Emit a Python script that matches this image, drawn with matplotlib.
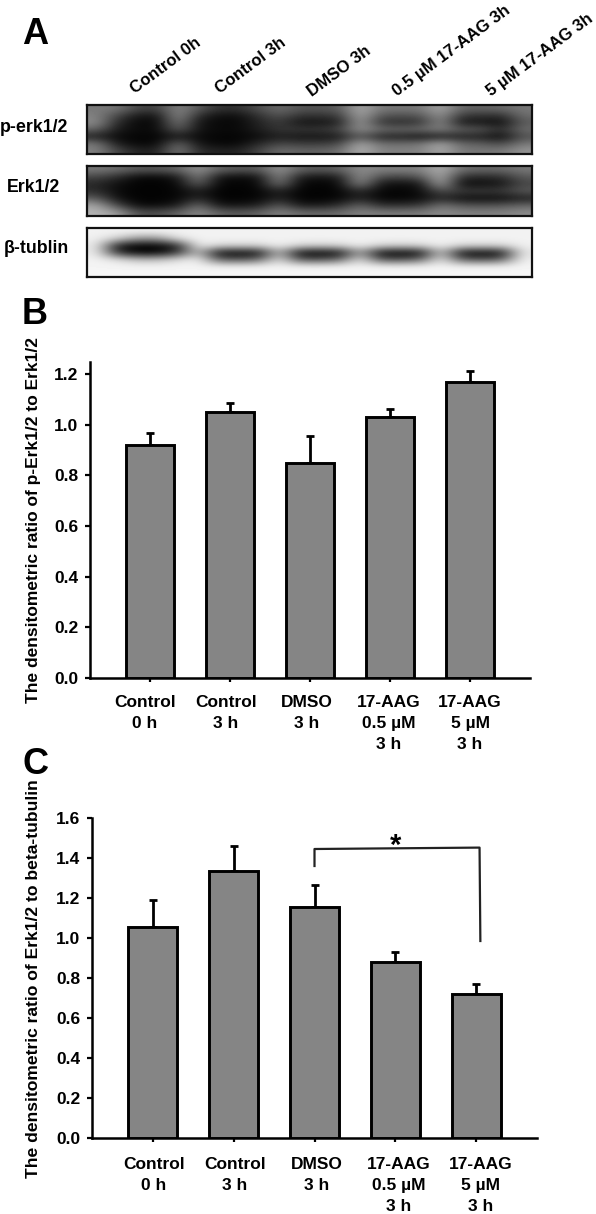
import numpy as np
import matplotlib
matplotlib.use("Agg")
import matplotlib.pyplot as plt

plt.rcParams['font.family'] = ['Liberation Sans', 'DejaVu Sans']
plt.rcParams['font.weight'] = 'bold'

W, H = 596, 1214

lane_labels = ["Control 0h", "Control 3h", "DMSO 3h", "0.5 µM 17-AAG 3h", "5 µM 17-AAG 3h"]
blot_names = ["p-erk1/2", "Erk1/2", "β-tublin"]

# Coarse grey levels (rows top to bottom)
perk_grey = [
    [120,120, 70, 65,135, 90, 50, 50, 80,110, 85, 85, 90,175,120,120,120,170,100,100,105,120],
    [130, 70, 25, 20,145, 45, 15, 15, 50, 85, 50, 50, 60,170, 85, 80, 85,150, 55, 50, 45,110],
    [140, 40,  8,  8,125, 20,  8,  8, 35, 60, 20, 20, 30,160, 50, 45, 50,140, 20, 25, 10, 90],
    [100, 25, 12, 10, 95, 20, 10, 10, 30, 55, 55, 55, 70,150,110,105,110,130, 95, 90, 45,110],
    [ 30, 10,  5,  5, 25, 10,  5,  5, 12, 30, 20, 20, 25, 90, 30, 30, 15, 30, 30, 30,  8, 80],
    [120, 25,  8,  8,105, 20,  8,  8, 40, 70, 60, 60, 70,170,110,110,115,170,100, 95, 70,120],
    [130, 70, 35, 35,125, 45, 35, 35, 70,110,100,100,110,180,130,130,130,170,120,120,120,150],
]
erk_grey = [
    [120,110, 90, 90,100,150,100, 90, 90,150,100, 90,100,140,130,130,130,180,110,105,105,120],
    [ 70, 45, 10,  8, 25,130, 20, 12, 18,140, 30, 20, 30,150, 75, 70, 85,175, 45, 40, 45, 90],
    [ 40, 15,  3,  3,  8,100,  6,  5,  8,120,  8,  5, 10,140, 20, 15, 20,170, 12, 15, 20, 70],
    [ 45, 10,  3,  3,  6, 30,  3,  3,  5, 35,  5,  3,  6, 45,  8,  5, 12, 80, 60, 60, 60, 90],
    [ 90, 15,  3,  3,  6, 40,  3,  3,  5, 35,  3,  3,  6, 35,  5,  5, 10, 40, 12, 10, 12, 30],
    [165, 70, 10, 10, 25,110, 20, 20, 30, 90, 25, 25, 45,100, 45, 45, 55,115, 85, 80, 85,100],
    [180,160, 80, 80,100,140,100, 90,100,130,110,105,110,130,125,125,125,140,130,130,130,140],
]
tub_grey = [
    [242,242,242,242,242,242,242,242,242,242,242,242,242,242,242,242,242,242,242,242,242,242],
    [240,210,150,150,225,242,242,242,242,242,242,242,242,242,242,242,242,242,242,242,242,242],
    [235, 25,  3,  3, 35,240,215,215,215,240,215,210,215,240,215,210,215,240,215,215,215,240],
    [235, 45,  5,  5, 55,195, 10,  8, 12,190,  8,  6, 12,170,  8,  6, 10,205, 12,  8, 12,230],
    [242,225,190,190,220,240, 95, 85,105,225, 85, 80,105,225, 85, 80,105,232, 95, 80, 95,240],
    [244,244,244,244,244,244,244,244,244,244,244,244,244,244,244,244,244,244,244,244,244,244],
    [246,246,246,246,246,246,246,246,246,246,246,246,246,246,246,246,246,246,246,246,246,246],
]

x_labels = ["Control\n0 h", "Control\n3 h", "DMSO\n3 h", "17-AAG\n0.5 µM\n3 h", "17-AAG\n5 µM\n3 h"]
ratio_b = [0.92, 1.05, 0.85, 1.03, 1.17]
err_b = [0.045, 0.035, 0.105, 0.03, 0.04]
ratio_c = [1.055, 1.335, 1.155, 0.88, 0.72]
err_c = [0.135, 0.125, 0.11, 0.05, 0.05]
ticks_b = [0.0, 0.2, 0.4, 0.6, 0.8, 1.0, 1.2]
ticks_c = [0.0, 0.2, 0.4, 0.6, 0.8, 1.0, 1.2, 1.4, 1.6]
ylabel_b = "The densitometric ratio of p-Erk1/2 to Erk1/2"
ylabel_c = "The densitometric ratio of Erk1/2 to beta-tubulin"

fig = plt.figure(figsize=(W / 100, H / 100), dpi=100, facecolor='white')


def px_axes(x0, y0, x1, y1):
    """Axes from pixel box measured from the top left of the figure."""
    return fig.add_axes([x0 / W, 1 - y1 / H, (x1 - x0) / W, (y1 - y0) / H])


def px_text(x, y, s, **kw):
    return fig.text(x / W, 1 - y / H, s, **kw)


# ---- Panel A: blots
blots = [perk_grey, erk_grey, tub_grey]
boxes = [(87, 105, 532, 154), (87, 166, 532, 216), (87, 228, 532, 277)]
name_pos = [(34, 127), (34, 187), (36, 248)]
for grey, box, name, np_ in zip(blots, boxes, blot_names, name_pos):
    ax = px_axes(*box)
    ax.imshow(np.array(grey, dtype=float), cmap='gray', vmin=0, vmax=255,
              aspect='auto', interpolation='bicubic')
    ax.set_xticks([])
    ax.set_yticks([])
    for s in ax.spines.values():
        s.set_linewidth(1.6)
        s.set_color('#111111')
    px_text(np_[0], np_[1], name, ha='center', va='center', fontsize=12.8, color='black')

lane_anchor = [(137, 96), (222, 96), (314, 99), (399, 99), (493, 99)]
for lab, (lx, ly) in zip(lane_labels, lane_anchor):
    px_text(lx, ly, lab, rotation=36.5, rotation_mode='anchor', ha='left', va='bottom',
            fontsize=12.1, color='black')


# ---- Panels B and C: bars
def bars(box, vals, errs, ticks, ymax, ylabel, yl_xy, yl_size, lab_dx, lab_dy):
    ax = px_axes(*box)
    pos = np.arange(len(vals))
    ax.bar(pos, vals, width=0.6, color='#858585', edgecolor='black', linewidth=2.1, zorder=3)
    ax.errorbar(pos, vals, yerr=[np.zeros(len(errs)), errs], fmt='none', ecolor='black',
                elinewidth=2.0, capsize=3.2, capthick=2.0, zorder=2)
    ax.set_xlim(-0.75, 4.75)
    ax.set_ylim(0, ymax)
    ax.set_yticks(ticks)
    ax.set_yticklabels([f"{t:.1f}" for t in ticks], fontsize=12.5, fontweight='bold')
    ax.set_xticks(pos)
    ax.set_xticklabels([])
    ax.tick_params(axis='y', length=3.5, width=1.6, pad=5)
    ax.tick_params(axis='x', length=3, width=1.6)
    for side in ('top', 'right'):
        ax.spines[side].set_visible(False)
    for side in ('left', 'bottom'):
        ax.spines[side].set_linewidth(1.8)
    for p, lab, dx in zip(pos, x_labels, lab_dx):
        ax.annotate(lab, xy=(p, 0), xycoords=('data', 'axes fraction'),
                    xytext=(dx * 0.72, lab_dy), textcoords='offset points',
                    ha='center', va='top', fontsize=12.5, fontweight='bold',
                    linespacing=1.5, annotation_clip=False)
    px_text(yl_xy[0], yl_xy[1], ylabel, rotation=90, ha='center', va='center',
            fontsize=yl_size, color='black')
    return ax


ax_b = bars((90, 362, 530, 678), ratio_b, err_b, ticks_b, 1.247, ylabel_b, (34, 520.5), 12.5,
            [-5, -4, -3, -1, 0], -12.5)
ax_c = bars((92, 818, 537, 1138), ratio_c, err_c, ticks_c, 1.6, ylabel_c, (34, 978.5), 12.6,
            [1, 1.5, 2, 3, 4], -13.5)

# significance bracket
bracket_x = [2.0, 2.0, 4.04, 4.05]
bracket_y = [1.36, 1.445, 1.452, 0.985]
ax_c.plot(bracket_x, bracket_y, color='#222222', lw=1.6, clip_on=False, zorder=4)
ax_c.text(3.0, 1.46, "*", ha='center', va='center', fontsize=21, color='black')

# ---- Panel letters
for letter, (lx, ly) in zip("ABC", [(35, 34), (35, 315), (35, 764)]):
    px_text(lx, ly, letter, ha='center', va='center', fontsize=26, color='black')

fig.savefig("out.png", dpi=100, facecolor='white')
